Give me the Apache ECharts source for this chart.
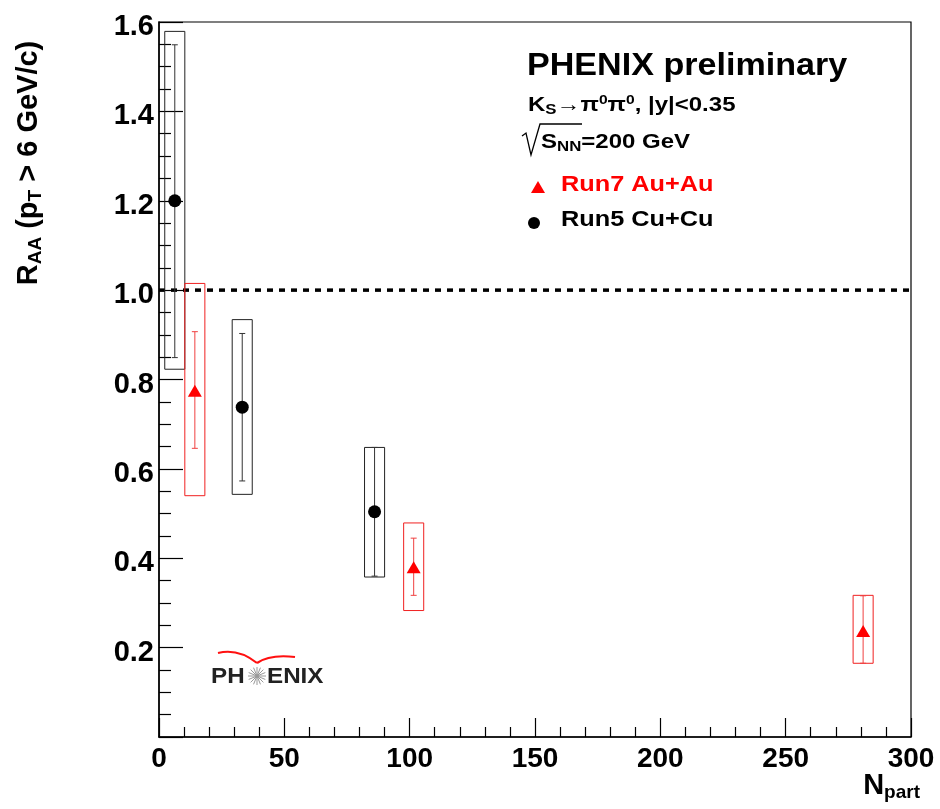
<!DOCTYPE html>
<html><head><meta charset="utf-8">
<script src="https://cdn.jsdelivr.net/npm/echarts@6/dist/echarts.min.js"></script>
<style>html,body{margin:0;padding:0;background:#fff}#c{width:940px;height:809px}</style>
</head><body><div id="c"></div>
<script>
// ---- data ----
const xTicks = [0, 50, 100, 150, 200, 250, 300];
const yTicks = [0.2, 0.4, 0.6, 0.8, 1.0, 1.2, 1.4, 1.6];

const cuNpart    = [6.3, 33.2, 86.0];
const cuRaa      = [1.20, 0.738, 0.504];
const cuStatLow  = [0.849, 0.573, 0.360];
const cuStatHigh = [1.549, 0.903, 0.648];
const cuSysLow   = [0.823, 0.543, 0.358];
const cuSysHigh  = [1.579, 0.934, 0.648];

const auNpart    = [14.3, 101.6, 280.9];
const auRaa      = [0.775, 0.380, 0.237];
const auStatLow  = [0.646, 0.317, 0.165];
const auStatHigh = [0.907, 0.445, 0.316];
const auSysLow   = [0.540, 0.283, 0.165];
const auSysHigh  = [1.015, 0.479, 0.317];

const refLine = 1.0;

// ---- style ----
const BOX_HALF = 4;   // half width of systematic box in Npart units
const CAP = 3;        // px half width of error caps
const FONT = '"Liberation Sans", Arial, Helvetica, sans-serif';

function build(n, r, sl, sh, bl, bh) {
  return n.map((x, i) => [x, r[i], sl[i], sh[i], bl[i], bh[i]]);
}
function renderer(boxColor, barColor) {
  return function (params, api) {
    const x = api.value(0);
    const tl = api.coord([x - BOX_HALF, api.value(5)]);
    const br = api.coord([x + BOX_HALF, api.value(4)]);
    const hi = api.coord([x, api.value(3)]);
    const lo = api.coord([x, api.value(2)]);
    const st = c => ({ stroke: c, lineWidth: 1, fill: null });
    return { type: 'group', children: [
      { type: 'rect', shape: { x: tl[0], y: tl[1], width: br[0] - tl[0], height: br[1] - tl[1] }, style: st(boxColor) },
      { type: 'line', shape: { x1: hi[0], y1: hi[1], x2: lo[0], y2: lo[1] }, style: st(barColor) },
      { type: 'line', shape: { x1: hi[0] - CAP, y1: hi[1], x2: hi[0] + CAP, y2: hi[1] }, style: st(barColor) },
      { type: 'line', shape: { x1: lo[0] - CAP, y1: lo[1], x2: lo[0] + CAP, y2: lo[1] }, style: st(barColor) }
    ]};
  };
}

const chart = echarts.init(document.getElementById('c'), null, { renderer: 'canvas' });

const sub = { fontSize: 19, fontWeight: 'bold', fontFamily: FONT, padding: [14, 0, 0, 0] };
const subS = { fontSize: 14, fontWeight: 'bold', fontFamily: FONT, padding: [10, 0, 0, 0] };
const supS = { fontSize: 13, fontWeight: 'bold', fontFamily: FONT, padding: [0, 0, 10, 0] };

const star = [];
for (let k = 0; k < 16; k++) {
  const a = k * Math.PI / 8;
  star.push({ type: 'line', shape: { x1: 0, y1: 0, x2: 9 * Math.cos(a), y2: 9 * Math.sin(a) }, style: { stroke: '#999', lineWidth: 1 } });
}

chart.setOption({
  animation: false,
  backgroundColor: '#fff',
  grid: { left: 159, right: 29, top: 22, bottom: 72, show: true, borderColor: '#000', borderWidth: 1.2, backgroundColor: 'transparent' },
  xAxis: {
    type: 'value', min: 0, max: 300, interval: 50,
    axisLine: { show: true, lineStyle: { color: '#000', width: 1.5 } },
    axisTick: { show: true, inside: true, length: 19, lineStyle: { color: '#000', width: 1.2 } },
    minorTick: { show: true, splitNumber: 5, length: 10, lineStyle: { color: '#000', width: 1.2 } },
    splitLine: { show: false },
    axisLabel: { margin: 8, color: '#000', fontSize: 28, fontWeight: 'bold', fontFamily: FONT,
      formatter: v => xTicks.indexOf(v) >= 0 ? String(v) : '' }
  },
  yAxis: {
    type: 'value', min: 0, max: 1.6, interval: 0.2,
    axisLine: { show: true, lineStyle: { color: '#000', width: 1.5 } },
    axisTick: { show: true, inside: true, length: 24, lineStyle: { color: '#000', width: 1.2 } },
    minorTick: { show: true, splitNumber: 4, length: 12, lineStyle: { color: '#000', width: 1.2 } },
    splitLine: { show: false },
    axisLabel: { margin: 5, color: '#000', fontSize: 29, fontWeight: 'bold', fontFamily: FONT,
      rich: { t: { fontSize: 29, fontWeight: 'bold', fontFamily: FONT, color: '#000', padding: [10, 0, 0, 0] } },
      formatter: v => { const t = yTicks.find(y => Math.abs(y - v) < 1e-6); return t === undefined ? '' : '{t|' + t.toFixed(1) + '}'; } }
  },
  series: [
    { type: 'line', name: 'ref', data: [[0, refLine], [300, refLine]], symbol: 'none', silent: true,
      lineStyle: { color: '#000', width: 3.5, type: [6, 6] }, z: 1 },
    { type: 'custom', name: 'cuSys', data: build(cuNpart, cuRaa, cuStatLow, cuStatHigh, cuSysLow, cuSysHigh),
      renderItem: renderer('#222', '#333'), z: 2 },
    { type: 'custom', name: 'auSys', data: build(auNpart, auRaa, auStatLow, auStatHigh, auSysLow, auSysHigh),
      renderItem: renderer('#f02020', '#f04040'), z: 2 },
    { type: 'scatter', name: 'Run5 Cu+Cu', data: cuNpart.map((x, i) => [x, cuRaa[i]]),
      symbol: 'circle', symbolSize: 13, itemStyle: { color: '#000', opacity: 1 }, z: 3 },
    { type: 'scatter', name: 'Run7 Au+Au', data: auNpart.map((x, i) => [x, auRaa[i]]),
      symbol: 'triangle', symbolSize: [14, 12], itemStyle: { color: '#ff0000', opacity: 1 }, z: 3 }
  ],
  graphic: [
    // y-axis title
    { type: 'text', x: 29, y: 163, rotation: Math.PI / 2,
      style: { text: '{m|R}{s|AA}{m| (p}{s|T}{m| > 6 GeV/c)}', align: 'center', verticalAlign: 'middle',
        rich: { m: { fontSize: 29, fontWeight: 'bold', fontFamily: FONT, fill: '#000' }, s: Object.assign({ fill: '#000' }, sub) } } },
    // x-axis title
    { type: 'text', x: 920, y: 786,
      style: { text: '{m|N}{s|part}', align: 'right', verticalAlign: 'middle',
        rich: { m: { fontSize: 29, fontWeight: 'bold', fontFamily: FONT, fill: '#000' }, s: Object.assign({ fill: '#000' }, sub) } } },
    // annotations
    { type: 'text', x: 527, y: 66, scaleX: 1.1, style: { text: 'PHENIX preliminary', verticalAlign: 'middle',
        font: 'bold 31px ' + FONT, fill: '#000' } },
    { type: 'text', x: 528, y: 105, scaleX: 1.2, style: { text: '{b|K}{s|S}{b|→π}{p|0}{b|π}{p|0}{b|, |y|<0.35}', verticalAlign: 'middle',
        rich: { b: { fontSize: 20, fontWeight: 'bold', fontFamily: FONT, fill: '#000' }, s: Object.assign({ fill: '#000' }, subS), p: Object.assign({ fill: '#000' }, supS) } } },
    { type: 'polyline', shape: { points: [[522, 136], [526, 133], [531, 155], [540, 124], [582, 124]] },
      style: { stroke: '#000', lineWidth: 1.3, fill: null } },
    { type: 'text', x: 541, y: 142, scaleX: 1.2, style: { text: '{b|S}{s|NN}{b|=200 GeV}', verticalAlign: 'middle',
        rich: { b: { fontSize: 20, fontWeight: 'bold', fontFamily: FONT, fill: '#000' }, s: Object.assign({ fill: '#000' }, subS) } } },
    { type: 'polygon', shape: { points: [[531, 193], [538, 181], [545, 193]] }, style: { fill: '#ff0000' } },
    { type: 'text', x: 561, y: 185, scaleX: 1.15, style: { text: 'Run7 Au+Au', verticalAlign: 'middle', font: 'bold 22px ' + FONT, fill: '#ff0000' } },
    { type: 'circle', shape: { cx: 534, cy: 223, r: 6 }, style: { fill: '#000' } },
    { type: 'text', x: 561, y: 220, scaleX: 1.15, style: { text: 'Run5 Cu+Cu', verticalAlign: 'middle', font: 'bold 22px ' + FONT, fill: '#000' } },
    // PHENIX logo
    { type: 'bezierCurve', shape: { x1: 218, y1: 653, cpx1: 238, cpy1: 648, x2: 257, y2: 663 },
      style: { stroke: '#ff1010', lineWidth: 2.2, fill: null } },
    { type: 'bezierCurve', shape: { x1: 257, y1: 663, cpx1: 270, cpy1: 654, x2: 295, y2: 657 },
      style: { stroke: '#ff1010', lineWidth: 2.2, fill: null } },
    { type: 'text', x: 211, y: 677, scaleX: 1.1, style: { text: 'PH', verticalAlign: 'middle', font: 'bold 22px ' + FONT, fill: '#222' } },
    { type: 'text', x: 267, y: 677, scaleX: 1.1, style: { text: 'ENIX', verticalAlign: 'middle', font: 'bold 22px ' + FONT, fill: '#222' } },
    { type: 'group', x: 257, y: 676, children: star }
  ]
});
</script></body></html>
